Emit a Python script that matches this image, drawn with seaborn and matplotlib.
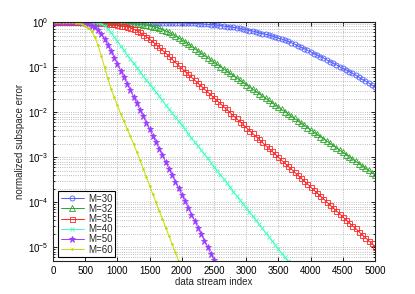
import numpy as np
import matplotlib
matplotlib.use("Agg")
import matplotlib.pyplot as plt
import seaborn as sns

m30 = [-0.00, -0.00, -0.01, -0.01, -0.01, -0.01, -0.01, -0.01, -0.01, -0.01,
       -0.01, -0.01, -0.01, -0.01, -0.01, -0.01, -0.01, -0.01, -0.01, -0.01,
       -0.01, -0.01, -0.01, -0.01, -0.01, -0.01, -0.01, -0.01, -0.01, -0.01,
       -0.01, -0.02, -0.02, -0.02, -0.02, -0.02, -0.02, -0.02, -0.02, -0.02,
       -0.02, -0.02, -0.03, -0.03, -0.03, -0.04, -0.04, -0.05, -0.05, -0.06,
       -0.06, -0.07, -0.08, -0.09, -0.10, -0.11, -0.12, -0.13, -0.14, -0.16,
       -0.17, -0.19, -0.20, -0.22, -0.24, -0.26, -0.27, -0.29, -0.31, -0.33,
       -0.36, -0.38, -0.40, -0.43, -0.46, -0.49, -0.53, -0.56, -0.59, -0.63,
       -0.66, -0.70, -0.73, -0.77, -0.80, -0.84, -0.88, -0.91, -0.95, -0.99,
       -1.03, -1.06, -1.10, -1.14, -1.18, -1.23, -1.27, -1.31, -1.35, -1.40,
       -1.44]
m32 = [-0.00, -0.00, -0.00, -0.00, -0.00, -0.00, -0.00, -0.00, -0.00, -0.00,
       -0.00, -0.01, -0.01, -0.01, -0.01, -0.01, -0.01, -0.01, -0.01, -0.01,
       -0.01, -0.02, -0.02, -0.03, -0.03, -0.04, -0.04, -0.05, -0.06, -0.07,
       -0.08, -0.10, -0.12, -0.14, -0.17, -0.20, -0.23, -0.27, -0.31, -0.35,
       -0.40, -0.44, -0.49, -0.54, -0.59, -0.64, -0.69, -0.74, -0.79, -0.84,
       -0.89, -0.94, -0.99, -1.04, -1.09, -1.14, -1.19, -1.24, -1.29, -1.34,
       -1.39, -1.44, -1.49, -1.54, -1.59, -1.64, -1.69, -1.74, -1.79, -1.84,
       -1.89, -1.94, -1.99, -2.04, -2.09, -2.14, -2.19, -2.24, -2.29, -2.34,
       -2.39, -2.44, -2.49, -2.54, -2.59, -2.64, -2.69, -2.74, -2.79, -2.84,
       -2.89, -2.94, -2.99, -3.04, -3.09, -3.14, -3.19, -3.24, -3.29, -3.34,
       -3.39]
m35 = [-0.00, -0.00, -0.00, -0.00, -0.00, -0.00, -0.00, -0.00, -0.00, -0.00,
       -0.00, -0.01, -0.01, -0.02, -0.02, -0.03, -0.03, -0.04, -0.05, -0.05,
       -0.06, -0.08, -0.09, -0.11, -0.13, -0.16, -0.19, -0.23, -0.28, -0.33,
       -0.38, -0.44, -0.50, -0.56, -0.63, -0.69, -0.76, -0.83, -0.90, -0.96,
       -1.03, -1.10, -1.16, -1.23, -1.29, -1.36, -1.42, -1.49, -1.55, -1.62,
       -1.68, -1.75, -1.81, -1.88, -1.94, -2.01, -2.08, -2.14, -2.21, -2.27,
       -2.34, -2.41, -2.47, -2.54, -2.60, -2.67, -2.74, -2.80, -2.87, -2.93,
       -3.00, -3.07, -3.13, -3.20, -3.26, -3.33, -3.40, -3.46, -3.53, -3.59,
       -3.66, -3.73, -3.79, -3.86, -3.92, -3.99, -4.06, -4.12, -4.19, -4.25,
       -4.32, -4.39, -4.45, -4.52, -4.58, -4.65, -4.72, -4.78, -4.85, -4.91,
       -4.98]
m40 = [-0.00, -0.00, -0.00, -0.00, -0.00, -0.00, -0.00, -0.00, -0.00, -0.00,
       -0.00, -0.00, -0.01, -0.01, -0.02, -0.04, -0.08, -0.15, -0.23, -0.33,
       -0.43, -0.53, -0.63, -0.73, -0.83, -0.92, -1.01, -1.10, -1.20, -1.29,
       -1.38, -1.47, -1.56, -1.65, -1.74, -1.84, -1.93, -2.02, -2.11, -2.20,
       -2.29, -2.38, -2.48, -2.57, -2.66, -2.75, -2.84, -2.93, -3.02, -3.12,
       -3.21, -3.30, -3.39, -3.48, -3.57, -3.66, -3.76, -3.85, -3.94, -4.03,
       -4.12, -4.21, -4.30, -4.40, -4.49, -4.58, -4.67, -4.76, -4.85, -4.94,
       -5.04, -5.13, -5.22, -5.31, -5.40]
m50 = [-0.00, -0.00, -0.00, -0.00, -0.00, -0.00, -0.00, -0.01, -0.01, -0.02,
       -0.03, -0.05, -0.08, -0.12, -0.18, -0.27, -0.38, -0.52, -0.65, -0.79,
       -0.93, -1.08, -1.22, -1.37, -1.51, -1.66, -1.80, -1.95, -2.09, -2.24,
       -2.38, -2.53, -2.67, -2.82, -2.96, -3.11, -3.25, -3.40, -3.54, -3.69,
       -3.83, -3.98, -4.12, -4.27, -4.41, -4.56, -4.70, -4.85, -4.99, -5.14,
       -5.28, -5.43]
m60 = [-0.00, -0.00, -0.00, -0.00, -0.00, -0.00, -0.01, -0.02, -0.03, -0.05,
       -0.08, -0.13, -0.21, -0.33, -0.52, -0.75, -1.00, -1.25, -1.48, -1.67,
       -1.85, -2.03, -2.20, -2.37, -2.53, -2.70, -2.88, -3.06, -3.25, -3.44,
       -3.63, -3.82, -4.00, -4.19, -4.37, -4.56, -4.74, -4.93, -5.11, -5.30,
       -5.48]

labels = ["M=30", "M=32", "M=35", "M=40", "M=50", "M=60"]
series = [m30, m32, m35, m40, m50, m60]
colors = ["#4d5cff", "#2ca52a", "#ff2424", "#3dffbf", "#9d3cff", "#c4dc00"]
markers = ["o", "^", "s", "x", "*", "."]
msizes = [3.6, 3.8, 3.6, 2.6, 4.5, 2.5]
open_face = [True, True, True, False, False, False]

sns.set_theme(style="ticks")
plt.rcParams["font.family"] = ["Liberation Sans", "DejaVu Sans"]
plt.rcParams["mathtext.default"] = "regular"

fig = plt.figure(figsize=(4.15, 2.94), dpi=100)
ax = fig.add_axes([53 / 415, 1 - 261 / 294, 322 / 415, 239 / 294])

for lab, vals, c, mk, ms, op in zip(labels, series, colors, markers, msizes, open_face):
    x = np.arange(len(vals)) * 50
    y = 10.0 ** np.array(vals)
    sns.lineplot(x=x, y=y, ax=ax, color=c, linewidth=0.7, label=lab,
                 marker=mk, markersize=ms, markeredgecolor=c,
                 markerfacecolor="none" if op else c, markeredgewidth=0.6)

ax.set_yscale("log")
ax.set_xlim(0, 5000)
ax.set_ylim(5e-6, 1)
ax.set_xticks(np.arange(0, 5001, 500))
ax.grid(True, which="both", linestyle=":", linewidth=0.6, color="#a8a8a8")
ax.tick_params(which="both", direction="in", top=True, right=True,
               labelsize=7, colors="black", width=0.6)
ax.tick_params(which="major", length=3)
ax.tick_params(which="minor", length=1.5)
for sp in ax.spines.values():
    sp.set_color("#222222")
    sp.set_linewidth(0.8)

ax.set_xlabel("data stream index", fontsize=7, labelpad=1)
ax.set_ylabel("normalized subspace error", fontsize=7, labelpad=2)

leg = ax.legend(loc="lower left", bbox_to_anchor=(0.016, 0.017), borderaxespad=0,
                fontsize=7, fancybox=False, framealpha=1, edgecolor="black",
                handlelength=2.4, labelspacing=0.02, borderpad=0.25,
                handletextpad=0.4)
leg.get_frame().set_linewidth(0.8)

fig.savefig("out.png", dpi=100)
